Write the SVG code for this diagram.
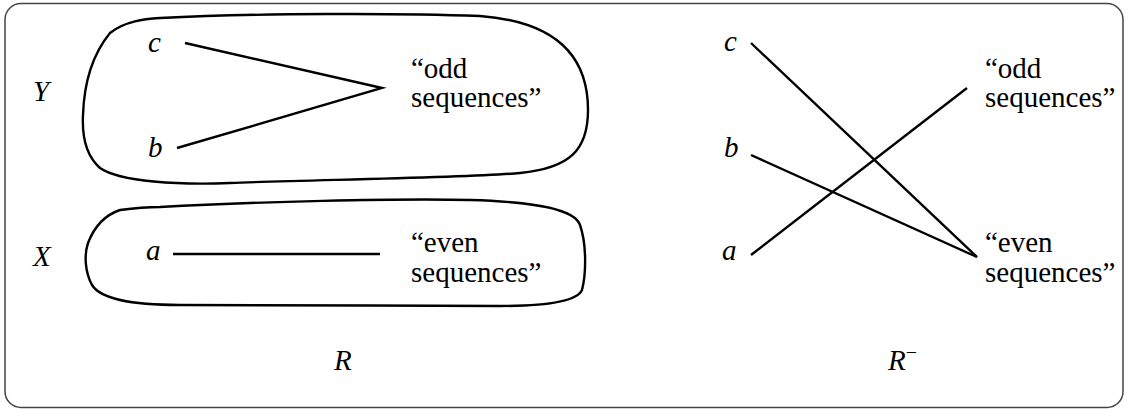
<svg xmlns="http://www.w3.org/2000/svg" width="1127" height="411" viewBox="0 0 1127 411">
<defs>
  <style>
    .frame { fill: none; stroke: #444; stroke-width: 1.5; }
    .blob { fill: none; stroke: #000; stroke-width: 2.4; stroke-linejoin: round; }
    .edge { fill: none; stroke: #000; stroke-width: 2.4; stroke-linecap: butt; }
    .t { font-family: "Liberation Serif", serif; font-size: 29px; fill: #000; }
    .i { font-family: "Liberation Serif", serif; font-size: 29px; font-style: italic; fill: #000; }
  </style>
</defs>
<rect class="frame" x="5" y="3.5" width="1118" height="404" rx="16" ry="16"/>

<g id="set-Y">
  <path class="blob" d="M 160,18 C 260,13 400,13 480,16 C 560,22 588,60 588,110 C 588,150 570,168 520,173 C 470,178 300,180 230,183 C 180,185 120,182 100,168 C 85,155 82,135 83,115 C 84,85 92,55 110,33 C 125,21 145,19 160,18 Z"/>
  <text class="i" x="33" y="101">Y</text>
</g>
<g id="set-X">
  <path class="blob" d="M 160,207 C 250,202 400,198 470,200 C 540,202 575,210 580,225 C 587,245 586,275 582,290 C 576,303 540,306 500,306 C 400,305 250,306 180,305 C 130,305 100,298 92,285 C 85,272 84,255 88,243 C 95,225 105,215 120,210 C 135,208 150,207 160,207 Z"/>
  <text class="i" x="33" y="266">X</text>
</g>

<g id="L-c"><text class="i" x="148" y="52">c</text></g>
<g id="L-b"><text class="i" x="148" y="157">b</text></g>
<g id="L-a"><text class="i" x="146" y="260">a</text></g>
<g id="L-odd">
  <text class="t" x="411" y="78">“odd</text>
  <text class="t" x="411" y="107">sequences”</text>
</g>
<g id="L-even">
  <text class="t" x="411" y="252">“even</text>
  <text class="t" x="411" y="282">sequences”</text>
</g>
<g id="L-R"><text class="i" x="334" y="370">R</text></g>

<g id="R-c"><text class="i" x="724" y="51">c</text></g>
<g id="R-b"><text class="i" x="724" y="157">b</text></g>
<g id="R-a"><text class="i" x="722" y="260">a</text></g>
<g id="R-odd">
  <text class="t" x="985" y="78">“odd</text>
  <text class="t" x="985" y="107">sequences”</text>
</g>
<g id="R-even">
  <text class="t" x="985" y="252">“even</text>
  <text class="t" x="985" y="282">sequences”</text>
</g>
<g id="R-Rinv"><text class="i" x="888" y="370">R<tspan font-style="normal" font-size="20" dy="-11">−</tspan></text></g>

<g id="connectors">
  <polyline class="edge" points="185,43 382,88 177,148"/>
  <line class="edge" x1="173" y1="254" x2="380" y2="254"/>
  <line class="edge" x1="751" y1="43" x2="977" y2="257"/>
  <line class="edge" x1="751" y1="155" x2="977" y2="257"/>
  <line class="edge" x1="751" y1="255" x2="967" y2="88"/>
</g>
</svg>
